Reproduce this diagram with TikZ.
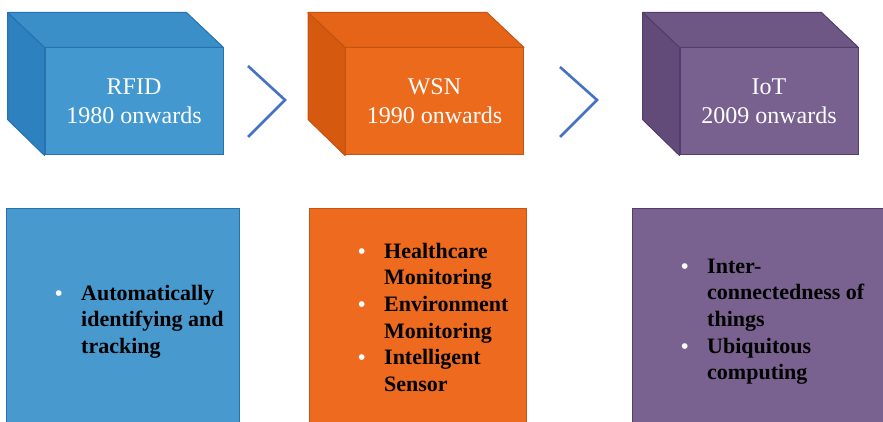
\documentclass[tikz,border=0pt]{standalone}
\usepackage{fontspec}
\setmainfont{Liberation Serif}
\usetikzlibrary{calc}
\begin{document}
\begin{tikzpicture}[x=1pt,y=1pt,
  front/.style={draw=#1, line width=1pt, minimum width=178pt, minimum height=107pt,
    inner sep=0pt},
  title/.style={align=center, text=white, font=\fontsize{24}{29}\selectfont, anchor=base, inner sep=0pt},
  panel/.style={draw=#1, line width=1pt, anchor=north west, inner sep=0pt},
  chevron/.style={draw=chev, line width=2.6pt, line join=miter},
  items/.style={anchor=base west, align=left, inner sep=0pt,
    font=\bfseries\fontsize{22}{26.7}\selectfont, text=black}
]
% palette
\definecolor{bluefront}{RGB}{66,152,207}
\definecolor{bluetop}{RGB}{58,143,201}
\definecolor{blueside}{RGB}{44,129,190}
\definecolor{blueedge}{RGB}{40,112,175}
\definecolor{bluepanel}{RGB}{72,153,206}
\definecolor{orfront}{RGB}{236,106,28}
\definecolor{ortop}{RGB}{230,100,24}
\definecolor{orside}{RGB}{214,89,16}
\definecolor{oredge}{RGB}{196,84,20}
\definecolor{orpanel}{RGB}{238,106,30}
\definecolor{pufront}{RGB}{121,97,143}
\definecolor{putop}{RGB}{110,86,133}
\definecolor{puside}{RGB}{98,74,121}
\definecolor{puedge}{RGB}{84,60,108}
\definecolor{pupanel}{RGB}{122,98,144}
\definecolor{chev}{RGB}{68,114,196}
\newcommand\blt{\makebox[26pt][l]{\textcolor{white}{\fontsize{21}{21}\selectfont\textbullet}}}
\newcommand\ind{\hspace{26pt}}

\useasboundingbox (0,0) rectangle (883,421);
\clip (0,0) rectangle (883,421);

% three cubes: front face as node, top and left faces from its corners
\foreach \nm/\cx/\cf/\ct/\cs/\ce in {rfid/134/bluefront/bluetop/blueside/blueedge,
                                     wsn/434.5/orfront/ortop/orside/oredge,
                                     iot/769/pufront/putop/puside/puedge}{
  \node[front=\ce, fill=\cf] (\nm) at (\cx,319.5) {};
  \filldraw[fill=\ct, draw=\ce, line width=1pt, line join=round]
    (\nm.north west) -- ++(-37,35) -- ($(\nm.north east)+(-37,35)$) -- (\nm.north east) -- cycle;
  \filldraw[fill=\cs, draw=\ce, line width=1pt, line join=round]
    (\nm.north west) -- ++(-37,35) -- ++(0,-107) -- (\nm.south west) -- cycle;
}
% titles (anchor base sits on the second line)
\node[title] (rfidt) at (134,297) {RFID\\1980 onwards};
\node[title] (wsnt) at (434.5,297) {WSN\\1990 onwards};
\node[title] (iott) at (769,297) {IoT\\2009 onwards};

% chevrons between the cubes
\coordinate (c1a) at (248,355); \coordinate (c1b) at (285,321); \coordinate (c1c) at (248,284);
\coordinate (c2a) at (560,354); \coordinate (c2b) at (597,321); \coordinate (c2c) at (560,284);
\draw[chevron] (c1a) -- (c1b) -- (c1c);
\draw[chevron] (c2a) -- (c2b) -- (c2c);

% lower panels
\node[panel=blueedge, fill=bluepanel, minimum width=233pt, minimum height=230pt] (p1) at (6,213) {};
\node[panel=oredge, fill=orpanel, minimum width=217pt, minimum height=230pt] (p2) at (309,213) {};
\node[panel=puedge, fill=pupanel, minimum width=260pt, minimum height=230pt] (p3) at (632,213) {};

% bullet lists (anchor base sits on the last line)
\node[items] (l1) at (55,67.6) {\blt Automatically\\ \ind identifying and\\ \ind tracking};
\node[items] (l2) at (358,29.5) {\blt Healthcare\\ \ind Monitoring\\ \blt Environment\\ \ind Monitoring\\ \blt Intelligent\\ \ind Sensor};
\node[items] (l3) at (681,41.2) {\blt Inter-\\ \ind connectedness of\\ \ind things\\ \blt Ubiquitous\\ \ind computing};
\end{tikzpicture}
\end{document}
